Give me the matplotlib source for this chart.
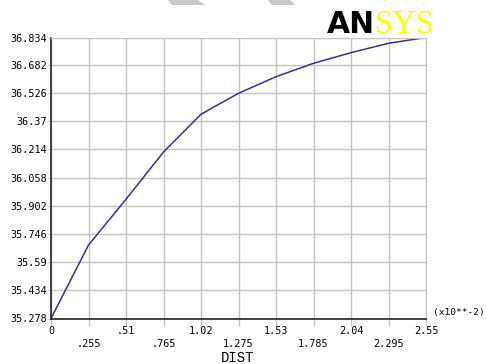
import numpy as np
from matplotlib import pyplot as plt
from matplotlib.patches import Polygon

dist = [0, 0.255, 0.51, 0.765, 1.02, 1.275, 1.53, 1.785, 2.04, 2.295, 2.55]
value = [35.278, 35.685, 35.938, 36.200, 36.409, 36.525, 36.617, 36.691, 36.750, 36.802, 36.834]

x_ticks = [0, 0.255, 0.51, 0.765, 1.02, 1.275, 1.53, 1.785, 2.04, 2.295, 2.55]
x_labels = ['0', '.255', '.51', '.765', '1.02', '1.275', '1.53', '1.785', '2.04', '2.295', '2.55']
y_ticks = [35.278, 35.434, 35.59, 35.746, 35.902, 36.058, 36.214, 36.37, 36.526, 36.682, 36.834]
y_labels = ['35.278', '35.434', '35.59', '35.746', '35.902', '36.058', '36.214', '36.37', '36.526', '36.682', '36.834']

mono = 'DejaVu Sans Mono'
W, H = 486, 364

fig = plt.figure(figsize=(W/100, H/100), dpi=100)
ax = fig.add_axes([51/W, 1 - 318.5/H, 375/W, 281/H])

ax.plot(dist, value, color='#3b2f8f', lw=1.1)
ax.set_xlim(0, 2.55)
ax.set_ylim(35.278, 36.834)

ax.set_xticks(x_ticks)
ax.set_xticklabels([])
ax.set_yticks(y_ticks)
ax.set_yticklabels(y_labels, family=mono, fontsize=7.3)
ax.grid(True, color='#c4c4c4', lw=1)
ax.tick_params(axis='x', length=5, color='#c4c4c4', width=1)
ax.tick_params(axis='y', length=2, color='#c4c4c4', pad=1)

# two-row x labels like the ANSYS plot
for i, (t, lab) in enumerate(zip(x_ticks, x_labels)):
    off = -9 if i % 2 == 0 else -18.2
    ax.annotate(lab, (t, 35.278), xytext=(0, off), textcoords='offset points',
                ha='center', va='center', family=mono, fontsize=7.3)

for s in ['top', 'right']:
    ax.spines[s].set_color('#c4c4c4')
for s in ['left', 'bottom']:
    ax.spines[s].set_color('#222222')
    ax.spines[s].set_linewidth(1.2)

fig.text(238/W, 1 - 358/H, 'DIST', ha='center', va='center', family='Liberation Mono', fontsize=10)
fig.text(433/W, 1 - 313/H, '(x10**-2)', ha='left', va='center', family=mono, fontsize=6.8)

# logo
fig.text(327/W, 1 - 33/H, 'AN', ha='left', va='baseline', family='DejaVu Sans',
         weight='bold', fontsize=21.5, color='black')
fig.text(375/W, 1 - 33/H, 'SYS', ha='left', va='baseline', family='Liberation Serif',
         fontsize=23.5, color='#ffff00')

# watermark fragments at top edge
for pts in [[(168, 0), (198, 0), (205, 5), (172, 5)], [(268, 0), (290, 0), (295, 5), (272, 5)]]:
    fig.patches.append(Polygon([(x/W, 1 - y/H) for x, y in pts], closed=True,
                               transform=fig.transFigure, color='#c8c8c8', lw=0))

fig.savefig('out.png', dpi=100)
